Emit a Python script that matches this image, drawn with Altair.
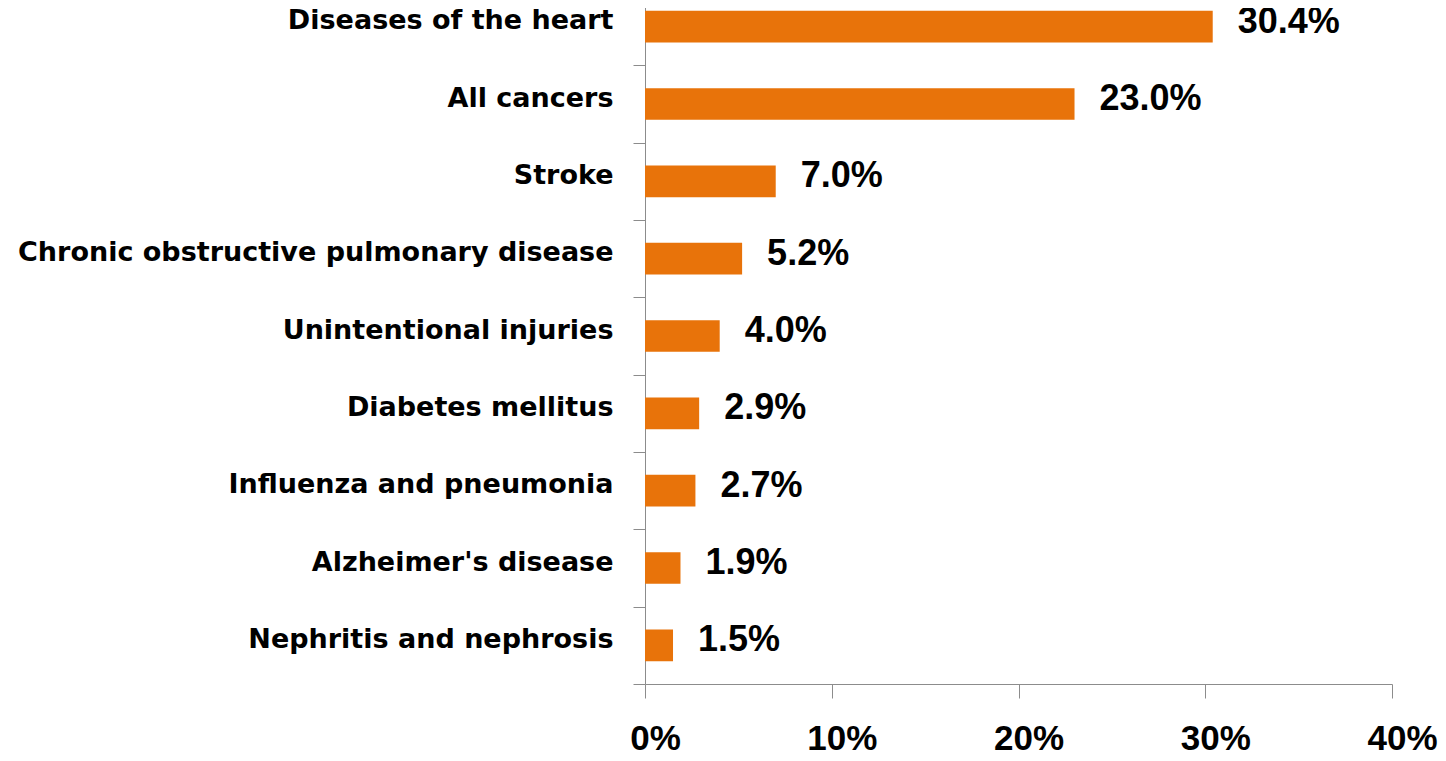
import altair as alt
import pandas as pd

causes = [
    "Diseases of the heart",
    "All cancers",
    "Stroke",
    "Chronic obstructive pulmonary disease",
    "Unintentional injuries",
    "Diabetes mellitus",
    "Influenza and pneumonia",
    "Alzheimer's disease",
    "Nephritis and nephrosis",
]
shares = [30.4, 23.0, 7.0, 5.2, 4.0, 2.9, 2.7, 1.9, 1.5]
x_ticks = [0, 10, 20, 30, 40]

df = pd.DataFrame({"cause": causes, "share": shares})
df["label"] = [f"{v:.1f}%" for v in shares]

ORANGE = "#E8730A"
GRAY = "#8C8C8C"

y_enc = alt.Y(
    "cause:N",
    sort=causes,
    title=None,
    scale=alt.Scale(paddingInner=0, paddingOuter=0),
    axis=alt.Axis(
        tickBand="extent",
        tickSize=12,
        tickColor=GRAY,
        domainColor=GRAY,
        labelFont="DejaVu Sans",
        labelFontWeight="bold",
        labelFontSize=27,
        labelColor="black",
        labelPadding=20,
        labelOffset=-6,
        labelLimit=700,
    ),
)

x_enc = alt.X(
    "share:Q",
    title=None,
    scale=alt.Scale(domain=[0, 40], nice=False),
    axis=alt.Axis(
        values=x_ticks,
        labelExpr="datum.value + '%'",
        grid=False,
        tickSize=14,
        tickColor=GRAY,
        domainColor=GRAY,
        labelFont="Liberation Sans",
        labelFontWeight="bold",
        labelFontSize=35,
        labelColor="black",
        labelPadding=23,
        labelOffset=10,
        labelFlush=False,
    ),
)

bars = alt.Chart(df).mark_bar(
    color=ORANGE, height=alt.RelativeBandSize(0.41)
).encode(x=x_enc, y=y_enc)

text = alt.Chart(df).mark_text(
    align="left",
    baseline="middle",
    dx=25,
    dy=-5,
    font="Liberation Sans",
    fontWeight="bold",
    fontSize=36,
    color="black",
).encode(x="share:Q", y=alt.Y("cause:N", sort=causes), text="label:N")

chart = (
    alt.layer(bars, text)
    .properties(
        width=747,
        height=696,
        padding={"left": 637, "top": -20, "right": 46, "bottom": 80},
        autosize=alt.AutoSizeParams(type="none"),
        background="white",
    )
    .configure_view(stroke=None)
)

chart.save("out.html", embed_options={"renderer": "svg", "actions": False})
